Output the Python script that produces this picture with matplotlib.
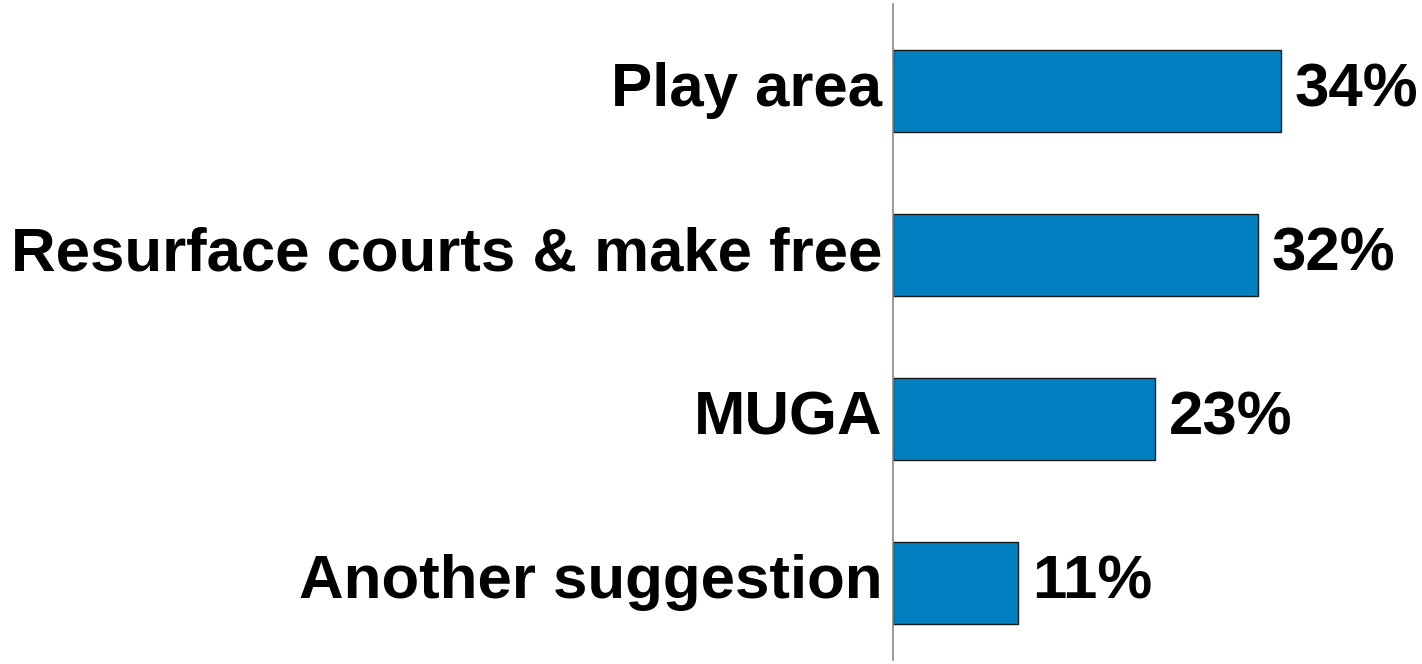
import matplotlib.pyplot as plt

categories = ['Play area', 'Resurface courts & make free', 'MUGA', 'Another suggestion']
values = [34, 32, 23, 11]

plt.rcParams['font.family'] = ['Liberation Sans', 'DejaVu Sans']

fig = plt.figure(figsize=(14.22, 6.64), dpi=100)
# axes: left edge at the vertical axis line (x=893 px), right edge at figure edge
ax = fig.add_axes([893 / 1422, 4 / 664, 1 - 893 / 1422, 656 / 664])

y = range(len(categories))
ax.barh(y, values, height=0.5, color='#0080c0', edgecolor='#1a1a1a', linewidth=1)
ax.set_xlim(0, (1422 - 893) / 11.4)
ax.set_ylim(3.47, -0.53)

for i, (c, v) in enumerate(zip(categories, values)):
    ax.text(-0.95, i, c, ha='right', va='center', fontsize=44.5, fontweight='bold')
    ax.text(v + 1.2, i, f'{v}%', ha='left', va='center', fontsize=44.5, fontweight='bold')

for s in ['top', 'right', 'bottom']:
    ax.spines[s].set_visible(False)
ax.spines['left'].set_color('#888888')
ax.spines['left'].set_linewidth(1.2)
ax.set_xticks([])
ax.set_yticks([])

fig.savefig('out.png', dpi=100)
